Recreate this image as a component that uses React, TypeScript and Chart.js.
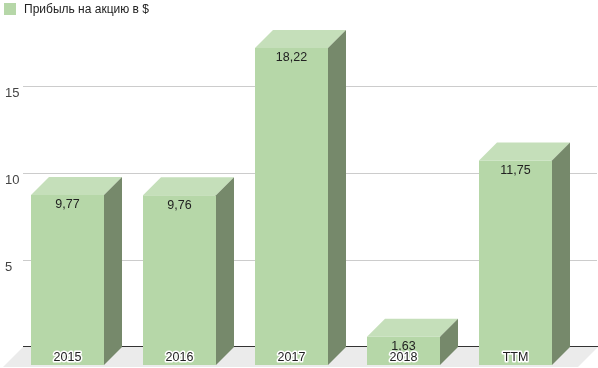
import React, { useEffect, useRef } from "react";
import { Chart, registerables } from "chart.js";

Chart.register(...registerables);

const categories = ["2015", "2016", "2017", "2018", "TTM"];
const values = [9.77, 9.76, 18.22, 1.63, 11.75];
const yTicks = [5, 10, 15];
const seriesName = "Прибыль на акцию в $";

const FRONT = "#b6d7a8";
const TOP = "#c5dfba";
const SIDE = "#76896b";
const FLOOR = "#ebebeb";
const GRID = "#cccccc";
const DEPTH = 18;
const FONT = "Arial, 'Liberation Sans', sans-serif";

const fmt = (v: number) => v.toFixed(2).replace(".", ",");

const box3d = {
  id: "box3d",
  beforeDatasetsDraw(chart: any) {
    const { ctx, chartArea, scales } = chart;
    const y = scales.y;
    const d = DEPTH;
    const base = y.getPixelForValue(0);
    const backY = base - d;
    const backLeft = chartArea.left + 11.5;
    const backRight = chartArea.right + 26.5;
    ctx.save();
    // floor
    ctx.fillStyle = FLOOR;
    ctx.beginPath();
    ctx.moveTo(backLeft, backY);
    ctx.lineTo(backRight, backY);
    ctx.lineTo(backRight - 20, base + 2);
    ctx.lineTo(backLeft - 20, base + 2);
    ctx.closePath();
    ctx.fill();
    // gridlines
    ctx.strokeStyle = GRID;
    ctx.lineWidth = 1;
    for (const t of yTicks) {
      const py = Math.round(y.getPixelForValue(t) - d) + 0.5;
      ctx.beginPath();
      ctx.moveTo(backLeft, py);
      ctx.lineTo(chartArea.right + d + 7.5, py);
      ctx.stroke();
      ctx.fillStyle = "#444";
      ctx.font = `13px ${FONT}`;
      ctx.textAlign = "left";
      ctx.textBaseline = "middle";
      ctx.fillText(String(t), 5, py + 6.5);
    }
    // baseline
    ctx.strokeStyle = "#333";
    ctx.lineWidth = 1;
    ctx.beginPath();
    ctx.moveTo(backLeft, Math.round(backY) - 0.5);
    ctx.lineTo(backRight, Math.round(backY) - 0.5);
    ctx.stroke();
    ctx.restore();
  },
  afterDatasetsDraw(chart: any) {
    const { ctx } = chart;
    const meta = chart.getDatasetMeta(0);
    const d = DEPTH;
    ctx.save();
    meta.data.forEach((bar: any, i: number) => {
      const { x, y, base, width } = bar.getProps(["x", "y", "base", "width"], true);
      const x0 = x - width / 2;
      const x1 = x + width / 2;
      // top
      ctx.fillStyle = TOP;
      ctx.beginPath();
      ctx.moveTo(x0, y);
      ctx.lineTo(x1, y);
      ctx.lineTo(x1 + d, y - d);
      ctx.lineTo(x0 + d, y - d);
      ctx.closePath();
      ctx.fill();
      // side
      ctx.fillStyle = SIDE;
      ctx.beginPath();
      ctx.moveTo(x1, y);
      ctx.lineTo(x1 + d, y - d);
      ctx.lineTo(x1 + d, base - d);
      ctx.lineTo(x1, base);
      ctx.closePath();
      ctx.fill();
      // value label
      ctx.font = `12.5px ${FONT}`;
      ctx.textAlign = "center";
      ctx.textBaseline = "middle";
      ctx.fillStyle = "#222";
      ctx.fillText(fmt(values[i]), x, y + 10);
      // category label with halo
      ctx.font = `12.5px ${FONT}`;
      ctx.lineJoin = "round";
      ctx.strokeStyle = "#ffffff";
      ctx.lineWidth = 3;
      ctx.strokeText(categories[i], x, base - 7);
      ctx.fillStyle = "#222";
      ctx.fillText(categories[i], x, base - 7);
    });
    ctx.restore();
  },
  afterDraw(chart: any) {
    const { ctx } = chart;
    ctx.save();
    ctx.fillStyle = FRONT;
    ctx.fillRect(4, 3, 12, 12);
    ctx.fillStyle = "#222";
    ctx.font = `12px ${FONT}`;
    ctx.textAlign = "left";
    ctx.textBaseline = "middle";
    ctx.fillText(seriesName, 24, 10);
    ctx.restore();
  },
};

export default function App() {
  const ref = useRef<HTMLCanvasElement>(null);
  useEffect(() => {
    document.body.style.margin = "0";
    const chart = new Chart(ref.current!, {
      type: "bar",
      data: {
        labels: categories,
        datasets: [
          {
            label: seriesName,
            data: values,
            backgroundColor: FRONT,
            borderWidth: 0,
            categoryPercentage: 1,
            barPercentage: 73 / 112,
          },
        ],
      },
      options: {
        responsive: false,
        animation: false,
        layout: { padding: { left: 11.5, right: 26.5, top: 17, bottom: 3 } },
        plugins: { legend: { display: false }, tooltip: { enabled: false } },
        scales: {
          x: { display: false },
          y: { display: false, min: 0, max: 20 },
        },
      },
      plugins: [box3d],
    });
    return () => chart.destroy();
  }, []);
  return (
    <div style={{ width: 598, height: 368 }}>
      <canvas ref={ref} width={598} height={368} style={{ display: "block" }} />
    </div>
  );
}
